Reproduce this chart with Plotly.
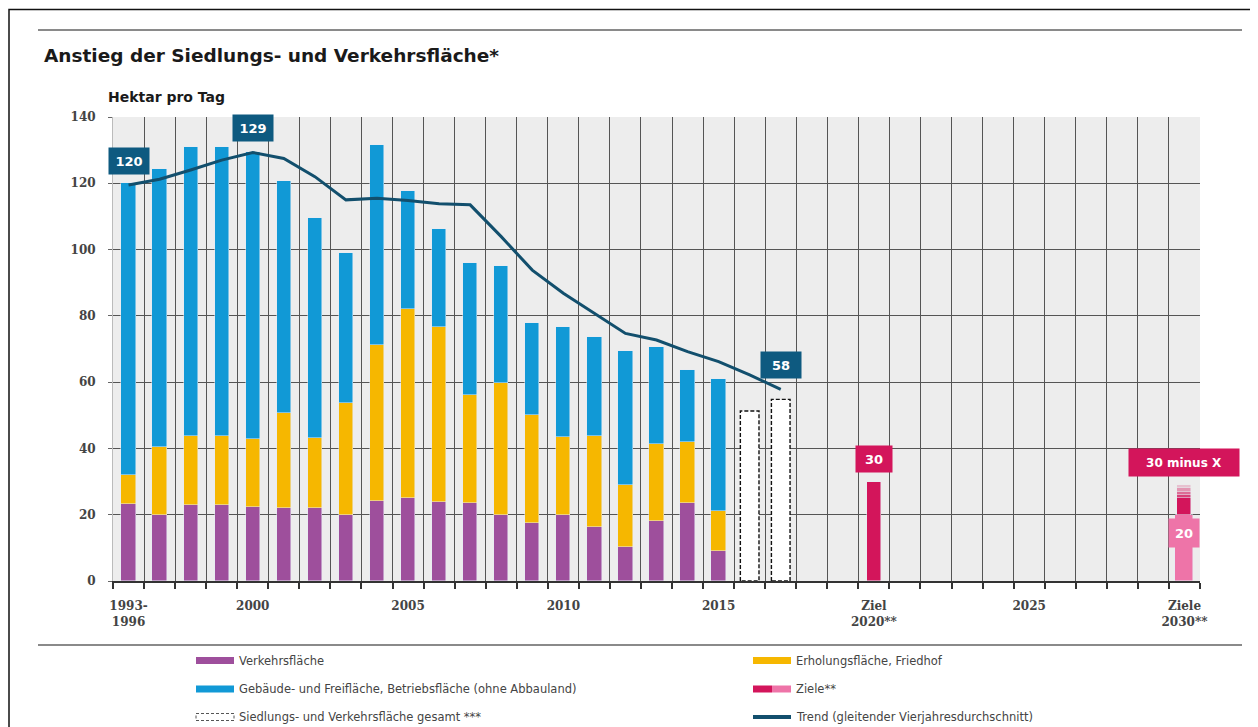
import plotly.graph_objects as go

# ---------------- data ----------------
categories = ["1993-1996"] + [str(y) for y in range(1997, 2031)]
tick_labels = {
    "1993-1996": "1993-<br>1996", "2000": "2000", "2005": "2005", "2010": "2010",
    "2015": "2015", "2020": "Ziel<br>2020**", "2025": "2025", "2030": "Ziele<br>2030**",
}
hist_years = categories[:20]
verkehr = [23.2, 19.9, 22.9, 22.9, 22.2, 21.9, 21.9, 19.9, 24.2, 25.0,
           23.9, 23.4, 19.9, 17.4, 19.9, 16.4, 10.2, 18.2, 23.4, 9.1]
erholung = [8.8, 20.6, 20.9, 20.9, 20.6, 28.9, 21.1, 33.7, 47.0, 57.0,
            52.6, 32.8, 39.9, 32.7, 23.5, 27.4, 18.8, 23.1, 18.5, 12.0]
gebaeude = [88.0, 83.7, 87.1, 87.1, 86.5, 70.0, 66.4, 45.3, 60.4, 35.8,
            29.6, 39.8, 35.2, 27.7, 33.3, 29.7, 40.4, 29.4, 21.8, 39.9]
gesamt_years = ["2016", "2017"]
gesamt = [51.3, 54.8]
trend_years = categories[:22]
trend = [119.5, 121.2, 124.0, 127.0, 129.3, 127.5, 122.0, 115.0, 115.5, 114.8,
         113.8, 113.5, 103.9, 93.8, 86.8, 80.8, 74.7, 72.7, 69.2, 66.2, 62.2, 57.8]
trend_labels = {"1993-1996": "120", "2000": "129", "2017": "58"}
ziel_2020 = 30
ziel_2030_low = 20
ziel_2030_range = [5, 1, 1, 1, 1]          # 20 -> 30 minus X, fading
ziel_2030_opacity = [1.0, 0.8, 0.6, 0.4, 0.2]

# ---------------- styles ----------------
C_VERK = "#9E4F9C"
C_ERH = "#F6B700"
C_GEB = "#1199D6"
C_TREND = "#124F6D"
C_LABEL = "#0E5A80"
C_ZIEL = "#D3155B"
C_ZIEL_L = "#EE74A8"
GRID = "#555555"
FONT = "DejaVu Sans"
TICKFONT = "DejaVu Serif"

idx = {c: i for i, c in enumerate(categories)}
OFF = 8                      # page offset of the figure inside the window
W, H = 1250, 719
L, T = 113 - OFF, 117 - OFF
PW, PH = 1087, 464
R, B = W - L - PW, H - T - PH


def px(xref_pix):
    return (xref_pix - OFF - L) / PW


def py(yref_pix):
    return (T + PH - (yref_pix - OFF)) / PH


fig = go.Figure()
xh = [idx[c] for c in hist_years]
BW = 0.46
fig.add_bar(x=xh, y=verkehr, width=BW, marker_color=C_VERK, name="Verkehrsfläche")
fig.add_bar(x=xh, y=erholung, width=BW, marker_color=C_ERH, name="Erholungsfläche, Friedhof")
fig.add_bar(x=xh, y=gebaeude, width=BW, marker_color=C_GEB,
            name="Gebäude- und Freifläche, Betriebsfläche (ohne Abbauland)")

# targets
fig.add_bar(x=[idx["2020"]], y=[ziel_2020], width=0.45, marker_color=C_ZIEL, name="Ziel 2020")
fig.add_bar(x=[idx["2030"]], y=[ziel_2030_low], width=0.58, marker_color=C_ZIEL_L, name="Ziel 2030")
for v, op in zip(ziel_2030_range, ziel_2030_opacity):
    fig.add_bar(x=[idx["2030"]], y=[v], width=0.45, marker_color=C_ZIEL,
                marker_opacity=op, name="30 minus X")

# dashed totals
hw = 0.3
dx, dy = [], []
for c, v in zip(gesamt_years, gesamt):
    i = idx[c]
    dx += [i - hw, i - hw, i + hw, i + hw, i - hw, None]
    dy += [0, v, v, 0, 0, None]
fig.add_scatter(x=dx, y=dy, mode="lines", fill="toself", fillcolor="white",
                line=dict(color="#111111", width=1.4, dash="4px,2px"),
                name="Siedlungs- und Verkehrsfläche gesamt ***")

# trend
fig.add_scatter(x=[idx[c] for c in trend_years], y=trend, mode="lines",
                line=dict(color=C_TREND, width=3), name="Trend")

annotations = []
for c, t in trend_labels.items():
    annotations.append(dict(x=idx[c], y=trend[idx[c]], xref="x", yref="y", text=f"<b>{t}</b>",
                            showarrow=False, yshift=24, bgcolor=C_LABEL, borderpad=4,
                            width=32, height=18,
                            font=dict(family=FONT, size=13, color="white")))
annotations.append(dict(x=idx["2020"], y=ziel_2020, xref="x", yref="y", text="<b>30</b>",
                        showarrow=False, yshift=23, bgcolor=C_ZIEL, borderpad=4, width=28, height=18,
                        font=dict(family=FONT, size=13, color="white")))
annotations.append(dict(x=idx["2030"], y=ziel_2030_low + sum(ziel_2030_range), xref="x", yref="y",
                        text="<b>30 minus X</b>", showarrow=False, yshift=22, bgcolor=C_ZIEL,
                        borderpad=4, width=102, height=19,
                        font=dict(family=FONT, size=12, color="white")))
annotations.append(dict(x=idx["2030"], y=ziel_2030_low, xref="x", yref="y", text="<b>20</b>",
                        showarrow=False, yshift=-18, bgcolor=C_ZIEL_L, borderpad=4, width=22, height=20,
                        font=dict(family=FONT, size=13, color="white")))

# title etc.
annotations.append(dict(xref="paper", yref="paper", x=px(42), y=py(55), xanchor="left", yanchor="middle",
                        text="<b>Anstieg der Siedlungs- und Verkehrsfläche*</b>", showarrow=False,
                        font=dict(family=FONT, size=18.5, color="#1a1a1a")))
annotations.append(dict(xref="paper", yref="paper", x=px(106), y=py(97), xanchor="left", yanchor="middle",
                        text="<b>Hektar pro Tag</b>", showarrow=False,
                        font=dict(family=FONT, size=14, color="#1a1a1a")))

shapes = [
    dict(type="line", xref="paper", yref="paper", x0=px(38), x1=px(1242), y0=py(30), y1=py(30),
         line=dict(color="#8a8a8a", width=2)),
    dict(type="line", xref="paper", yref="paper", x0=px(38), x1=px(1242), y0=py(645), y1=py(645),
         line=dict(color="#8a8a8a", width=2)),
    dict(type="rect", xref="paper", yref="paper", x0=px(9), x1=px(1251), y0=py(9.5), y1=py(760),
         line=dict(color="#111111", width=1.5)),
]

# custom legend
rows = [660.5, 689, 717]
legend_items = [
    ("left", 0, "rect", C_VERK, "Verkehrsfläche"),
    ("right", 0, "rect", C_ERH, "Erholungsfläche, Friedhof"),
    ("left", 1, "rect", C_GEB, "Gebäude- und Freifläche, Betriebsfläche (ohne Abbauland)"),
    ("right", 1, "ziele", None, "Ziele**"),
    ("left", 2, "dash", None, "Siedlungs- und Verkehrsfläche gesamt ***"),
    ("right", 2, "line", C_TREND, "Trend (gleitender Vierjahresdurchschnitt)"),
]
for side, r, kind, col, txt in legend_items:
    x0 = 196 if side == "left" else 753
    x1 = x0 + 38
    yc = rows[r]
    if kind == "rect":
        shapes.append(dict(type="rect", xref="paper", yref="paper", x0=px(x0), x1=px(x1),
                           y0=py(yc + 3.5), y1=py(yc - 3.5), fillcolor=col, line=dict(width=0)))
    elif kind == "ziele":
        shapes.append(dict(type="rect", xref="paper", yref="paper", x0=px(x0), x1=px(x0 + 19),
                           y0=py(yc + 3.5), y1=py(yc - 3.5), fillcolor=C_ZIEL, line=dict(width=0)))
        shapes.append(dict(type="rect", xref="paper", yref="paper", x0=px(x0 + 19), x1=px(x1),
                           y0=py(yc + 3.5), y1=py(yc - 3.5), fillcolor=C_ZIEL_L, line=dict(width=0)))
    elif kind == "dash":
        shapes.append(dict(type="rect", xref="paper", yref="paper", x0=px(x0), x1=px(x1),
                           y0=py(yc + 3.5), y1=py(yc - 3.5), fillcolor="white",
                           line=dict(color="#555555", width=1, dash="3px,2px")))
    else:
        shapes.append(dict(type="line", xref="paper", yref="paper", x0=px(x0), x1=px(x1),
                           y0=py(yc), y1=py(yc), line=dict(color=col, width=4)))
    annotations.append(dict(xref="paper", yref="paper", x=px(x1 + 3), y=py(yc), xanchor="left",
                            yanchor="middle", text=txt, showarrow=False,
                            font=dict(family=FONT, size=11.5, color="#444444")))

tickvals = [idx[c] for c in tick_labels]
ticktext = [tick_labels[c] for c in tick_labels]

fig.update_layout(
    width=W, height=H, margin=dict(l=L, r=R, t=T, b=B, autoexpand=False),
    barmode="stack", bargap=0, showlegend=False,
    paper_bgcolor="white", plot_bgcolor="#ededed",
    annotations=annotations, shapes=shapes,
    xaxis=dict(range=[-0.5, len(categories) - 0.5], tickmode="array", tickvals=tickvals,
               ticktext=ticktext, showgrid=False, ticks="", zeroline=False,
               showline=True, linecolor="#333333", linewidth=2,
               tickfont=dict(family=TICKFONT, size=12, color="#444444", weight="bold"),
               ticklabelstandoff=13,
               minor=dict(tick0=-0.5, dtick=1, showgrid=True, gridcolor=GRID, gridwidth=1,
                          ticks="outside", ticklen=6, tickcolor="#333333", tickwidth=1.5)),
    yaxis=dict(range=[0, 140], dtick=20, showgrid=True, gridcolor=GRID, gridwidth=1,
               zeroline=False, ticks="outside", ticklen=4, tickcolor="#666666",
               tickfont=dict(family=TICKFONT, size=12, color="#444444", weight="bold"),
               ticklabelstandoff=10,
               showline=True, linecolor="#bbbbbb", linewidth=1),
)

fig.write_html("out.html")
